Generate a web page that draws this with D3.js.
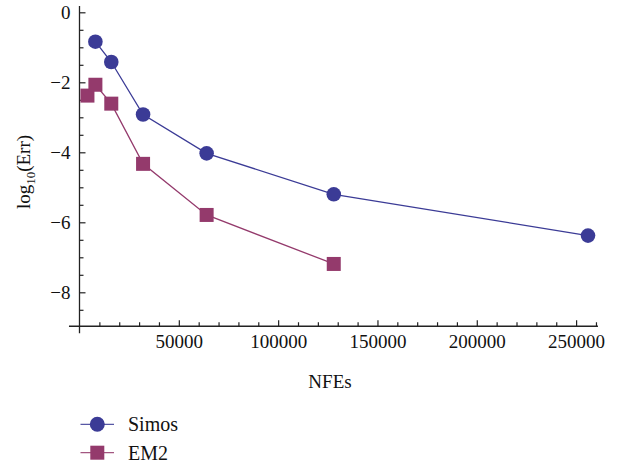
<!DOCTYPE html>
<html>
<head>
<meta charset="utf-8">
<script src="https://cdn.jsdelivr.net/npm/d3@7"></script>
<style>
  body { margin: 0; background: #fff; }
  svg { display: block; }
</style>
</head>
<body>
<svg id="chart" width="618" height="466"></svg>
<script>

// data
let simosNFE = [8000, 16000, 32000, 64000, 128000, 256000]
let simosErr = [-0.84, -1.42, -2.92, -4.03, -5.2, -6.38]
let em2NFE = [4000, 8000, 16000, 32000, 64000, 128000]
let em2Err = [-2.38, -2.07, -2.61, -4.33, -5.79, -7.19]

let xTicks = [50000, 100000, 150000, 200000, 250000]
let yTicks = [0, -2, -4, -6, -8]

let SIMOS_COLOR = "#3b3b96"
let EM2_COLOR = "#943a6c"
let FONT = "'Liberation Serif', 'Times New Roman', 'DejaVu Serif', serif"

function drawChart(){
    let svg = d3.select("#chart")

    let xScale = d3.scaleLinear()
        .domain([0, 250000])
        .range([79.5, 576.1])

    let yScale = d3.scaleLinear()
        .domain([0, -8])
        .range([12.3, 292.3])

    // minor ticks
    let xMinor = d3.range(10000, 260001, 10000).filter(v => v % 50000 != 0)
    let yMinor = d3.range(-8.5, 0, 0.5).filter(v => v % 2 != 0)

    let axisY = yScale(-8.97)
    let axisX = xScale(0)

    let gx = svg.append("g").attr("transform", "translate(0," + axisY + ")")
    gx.call(d3.axisBottom(xScale).tickValues(xTicks).tickSize(-6).tickPadding(8)
            .tickFormat(d3.format("d")))
    gx.append("g").call(d3.axisBottom(xScale).tickValues(xMinor).tickSize(-4).tickFormat(""))
    gx.selectAll(".domain").remove()
    gx.attr("font-family", null)
    gx.selectAll("text").style("font-size", "19px").style("font-family", FONT).attr("fill", "#111")
    gx.selectAll("line").attr("stroke", "#222").attr("stroke-width", 1.2)

    let gy = svg.append("g").attr("transform", "translate(" + axisX + ",0)")
    gy.call(d3.axisLeft(yScale).tickValues(yTicks).tickSize(-6).tickPadding(9)
            .tickFormat(d => d == 0 ? "0" : "\u2212" + Math.abs(d)))
    gy.append("g").call(d3.axisLeft(yScale).tickValues(yMinor).tickSize(-4).tickFormat(""))
    gy.selectAll(".domain").remove()
    gy.attr("font-family", null)
    gy.selectAll("text").style("font-size", "19px").style("font-family", FONT).attr("fill", "#111")
    gy.selectAll("line").attr("stroke", "#222").attr("stroke-width", 1.2)

    // axis lines, Mathematica style crossing
    svg.append("line")
        .attr("x1", xScale(-5300)).attr("x2", xScale(261000))
        .attr("y1", axisY).attr("y2", axisY)
        .attr("stroke", "#222").attr("stroke-width", 1.3)
    svg.append("line")
        .attr("x1", axisX).attr("x2", axisX)
        .attr("y1", yScale(0.18)).attr("y2", yScale(-9.17))
        .attr("stroke", "#222").attr("stroke-width", 1.3)

    // axis titles
    svg.append("text")
        .attr("x", 330).attr("y", 388)
        .attr("text-anchor", "middle")
        .style("font-family", FONT)
        .style("font-size", "19px")
        .attr("fill", "#111")
        .text("NFEs")

    let yl = svg.append("text")
        .attr("transform", "translate(30,172) rotate(-90)")
        .attr("text-anchor", "middle")
        .style("font-family", FONT)
        .style("font-size", "19px")
        .attr("fill", "#111")
    yl.append("tspan").text("log")
    yl.append("tspan").attr("dy", 5).style("font-size", "13px").text("10")
    yl.append("tspan").attr("dy", -5).text("(Err)")

    let line = d3.line().x(d => xScale(d[0])).y(d => yScale(d[1]))

    let simos = simosNFE.map((v, i) => [v, simosErr[i]])
    let em2 = em2NFE.map((v, i) => [v, em2Err[i]])

    svg.append("path").datum(em2)
        .attr("d", line).attr("fill", "none")
        .attr("stroke", EM2_COLOR).attr("stroke-width", 1.3)
    svg.append("path").datum(simos)
        .attr("d", line).attr("fill", "none")
        .attr("stroke", SIMOS_COLOR).attr("stroke-width", 1.3)

    let sq = 14
    svg.selectAll(".em2-pt").data(em2).enter()
        .append("rect")
        .attr("class", "em2-pt")
        .attr("x", d => xScale(d[0]) - sq/2)
        .attr("y", d => yScale(d[1]) - sq/2)
        .attr("width", sq).attr("height", sq)
        .attr("fill", EM2_COLOR)

    svg.selectAll(".simos-pt").data(simos).enter()
        .append("circle")
        .attr("class", "simos-pt")
        .attr("cx", d => xScale(d[0]))
        .attr("cy", d => yScale(d[1]))
        .attr("r", 7.3)
        .attr("fill", SIMOS_COLOR)

    // legend
    let legend = [
        {name: "Simos", color: SIMOS_COLOR, shape: "circle", y: 424.3},
        {name: "EM2", color: EM2_COLOR, shape: "square", y: 452.7}
    ]
    for(let item of legend){
        svg.append("line")
            .attr("x1", 80.5).attr("x2", 114)
            .attr("y1", item.y).attr("y2", item.y)
            .attr("stroke", item.color).attr("stroke-width", 1.3)
            .attr("opacity", 0.85)
        if(item.shape == "circle"){
            svg.append("circle").attr("cx", 97.3).attr("cy", item.y)
                .attr("r", 7.5).attr("fill", item.color)
        } else {
            svg.append("rect").attr("x", 97.3 - 7).attr("y", item.y - 7)
                .attr("width", 14).attr("height", 14).attr("fill", item.color)
        }
        svg.append("text")
            .attr("x", 128).attr("y", item.y + 7)
            .style("font-family", FONT)
            .style("font-size", "20px")
            .attr("fill", "#111")
            .text(item.name)
    }
}

drawChart()
</script>
</body>
</html>
